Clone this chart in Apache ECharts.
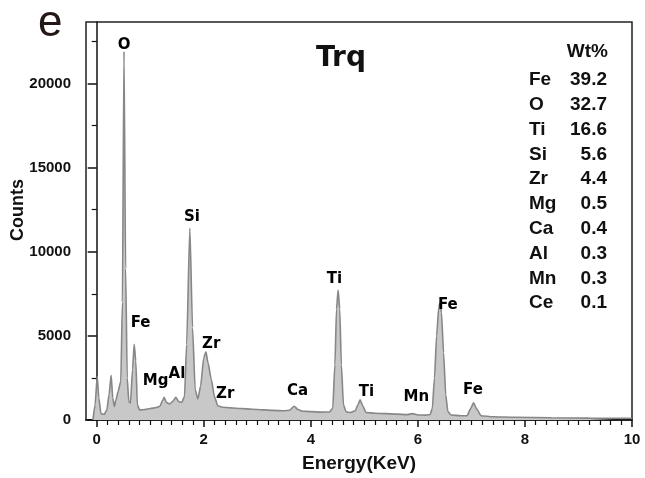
<!DOCTYPE html>
<html>
<head>
<meta charset="utf-8">
<script src="https://cdn.jsdelivr.net/npm/echarts@6/dist/echarts.min.js"></script>
<style>
  html, body { margin: 0; padding: 0; background: #fff; }
  #chart { width: 645px; height: 478px; }
</style>
</head>
<body>
<div id="chart"></div>
<script>
// EDS spectrum, sample Trq (energy in keV, counts)
var energy = [
  -0.07, -0.03, 0.01, 0.04, 0.08, 0.14, 0.19, 0.23, 0.27, 0.30,
  0.33, 0.36, 0.40, 0.45, 0.48, 0.51, 0.54, 0.57, 0.60, 0.63,
  0.67, 0.70, 0.73, 0.76, 0.80, 0.90, 1.00, 1.10, 1.18, 1.23,
  1.26, 1.30, 1.36, 1.42, 1.48, 1.53, 1.59, 1.64, 1.68, 1.74,
  1.79, 1.84, 1.89, 1.94, 2.00, 2.04, 2.08, 2.14, 2.20, 2.26,
  2.35, 2.50, 2.70, 2.90, 3.10, 3.30, 3.50, 3.60, 3.69, 3.76,
  3.85, 4.00, 4.20, 4.35, 4.41, 4.45, 4.48, 4.51, 4.54, 4.57,
  4.61, 4.66, 4.75, 4.83, 4.88, 4.92, 4.97, 5.03, 5.20, 5.40,
  5.60, 5.80, 5.90, 6.00, 6.15, 6.23, 6.27, 6.31, 6.35, 6.39,
  6.41, 6.44, 6.48, 6.52, 6.56, 6.62, 6.80, 6.92, 6.98, 7.04,
  7.10, 7.18, 7.40, 7.80, 8.50, 9.20, 10.0
];
var counts = [
  0, 900, 2600, 1300, 380, 330, 600, 1500, 2650, 1300,
  800, 1200, 1700, 2300, 7000, 21900, 9000, 2500, 1100, 1000,
  3000, 4500, 3500, 900, 600, 620, 680, 730, 820, 1150,
  1350, 1050, 950, 1100, 1350, 1100, 1050, 1400, 4500, 11400,
  5500, 1800, 1250, 2000, 3700, 4050, 3400, 2400, 1400, 850,
  760, 720, 680, 640, 600, 570, 550, 580, 820, 620,
  520, 500, 470, 480, 700, 3300, 6600, 7720, 6600, 3300,
  900, 480, 450, 550, 900, 1200, 850, 450, 400, 380,
  350, 320, 380, 300, 290, 330, 700, 2500, 5000, 6700,
  6950, 6400, 4000, 1500, 500, 300, 250, 260, 650, 1020,
  650, 250, 190, 160, 130, 110, 100
];

// peak labels
var peakNames = ['O', 'Fe', 'Si', 'Mg', 'Al', 'Zr', 'Zr', 'Ca', 'Ti', 'Ti', 'Mn', 'Fe', 'Fe'];
var peakX = [0.51, 0.82, 1.78, 1.10, 1.50, 2.14, 2.40, 3.75, 4.44, 5.04, 5.97, 6.56, 7.03];
var peakY = [22300, 5750, 12050, 2300, 2700, 4500, 1550, 1700, 8400, 1650, 1350, 6800, 1750];

// Wt% table
var elements = ['Fe', 'O', 'Ti', 'Si', 'Zr', 'Mg', 'Ca', 'Al', 'Mn', 'Ce'];
var wtPercent = ['39.2', '32.7', '16.6', '5.6', '4.4', '0.5', '0.4', '0.3', '0.3', '0.1'];

var xTicks = [0, 2, 4, 6, 8, 10];
var yTicks = [0, 5000, 10000, 15000, 20000];
var yMinor = [2500, 7500, 12500, 17500, 22500];
var xMinor = [];
for (var k = 1; k < 50; k++) {
  if (k % 10 != 0) xMinor.push(+(k * 0.2).toFixed(1));
}

var spectrum = [];
for (var i = 0; i < energy.length; i++) {
  spectrum.push([energy[i], counts[i]]);
}
var peaks = [];
for (var i = 0; i < peakNames.length; i++) {
  peaks.push({ value: [peakX[i], peakY[i]], name: peakNames[i] });
}

var chart = echarts.init(document.getElementById('chart'), null, { renderer: 'canvas' });

var labelFont = { fontFamily: 'Liberation Sans', fontWeight: 'bold', fontSize: 15, color: '#111' };
var tableFont = 'bold 19px "Liberation Sans"';

var graphics = [
  {
    type: 'text', left: 38, top: 2,
    style: { text: 'e', font: '44px "Liberation Sans"', fill: '#231815' }
  },
  {
    type: 'text', x: 341, y: 59,
    style: { text: 'Trq', font: 'bold 28px "DejaVu Sans"', fill: '#111', textAlign: 'center', textVerticalAlign: 'middle' }
  },
  {
    type: 'text', x: 18, y: 210, rotation: Math.PI / 2,
    style: { text: 'Counts', font: 'bold 18px "Liberation Sans"', fill: '#111', textAlign: 'center', textVerticalAlign: 'middle' }
  },
  {
    type: 'text', x: 608, y: 52,
    style: { text: 'Wt%', font: tableFont, fill: '#111', textAlign: 'right', textVerticalAlign: 'middle' }
  }
];
for (var r = 0; r < elements.length; r++) {
  var rowY = 80 + r * 24.8;
  graphics.push({
    type: 'text', x: 529, y: rowY,
    style: { text: elements[r], font: tableFont, fill: '#111', textAlign: 'left', textVerticalAlign: 'middle' }
  });
  graphics.push({
    type: 'text', x: 607, y: rowY,
    style: { text: wtPercent[r], font: tableFont, fill: '#111', textAlign: 'right', textVerticalAlign: 'middle' }
  });
}

var option = {
  backgroundColor: '#ffffff',
  animation: false,
  grid: {
    left: 86, top: 22, right: 13, bottom: 54,
    show: true, borderColor: '#222', borderWidth: 1.5
  },
  xAxis: [
    {
      type: 'value', min: -0.2, max: 10, position: 'bottom',
      name: 'Energy(KeV)', nameLocation: 'middle', nameGap: 34,
      nameTextStyle: { fontFamily: 'Liberation Sans', fontWeight: 'bold', fontSize: 19, color: '#111' },
      axisLine: { onZero: false, lineStyle: { color: '#111', width: 1.5 } },
      axisTick: { customValues: xTicks, length: 7, lineStyle: { color: '#111', width: 1.5 } },
      axisLabel: Object.assign({ customValues: xTicks, margin: 12, formatter: function (v) { return String(v); } }, labelFont),
      splitLine: { show: false }
    },
    {
      type: 'value', min: -0.2, max: 10, position: 'bottom',
      axisLine: { show: false, onZero: false },
      axisTick: { customValues: xMinor, length: 5, lineStyle: { color: '#111', width: 1.2 } },
      axisLabel: { show: false },
      splitLine: { show: false }
    }
  ],
  yAxis: [
    {
      type: 'value', min: 0, max: 23650, position: 'left',
      axisLine: { show: true, lineStyle: { color: '#111', width: 1.5 } },
      axisTick: { show: true, customValues: yTicks, length: 9, lineStyle: { color: '#111', width: 1.5 } },
      axisLabel: Object.assign({ customValues: yTicks, margin: 15, formatter: function (v) { return String(v); } }, labelFont),
      splitLine: { show: false }
    },
    {
      type: 'value', min: 0, max: 23650, position: 'left',
      axisLine: { show: false },
      axisTick: { show: true, customValues: yMinor, length: 5, lineStyle: { color: '#111', width: 1.2 } },
      axisLabel: { show: false },
      splitLine: { show: false }
    }
  ],
  series: [
    {
      name: 'Trq',
      type: 'line',
      data: spectrum,
      xAxisIndex: 0,
      yAxisIndex: 0,
      symbol: 'none',
      smooth: 0.2,
      smoothMonotone: 'x',
      lineStyle: { color: '#878787', width: 1.6 },
      areaStyle: { color: '#c8c8c8', opacity: 1 },
      z: 2
    },
    {
      name: 'peaks',
      type: 'scatter',
      data: peaks,
      xAxisIndex: 0,
      yAxisIndex: 0,
      symbolSize: 0,
      itemStyle: { color: '#000', opacity: 1 },
      label: {
        show: true,
        position: 'inside',
        formatter: function (p) { return p.name; },
        fontFamily: 'DejaVu Sans',
        fontWeight: 'bold',
        fontSize: 15,
        color: '#000',
        opacity: 1,
        textBorderWidth: 0,
        textBorderColor: 'transparent'
      },
      z: 3
    }
  ],
  graphic: graphics
};

chart.setOption(option);
</script>
</body>
</html>
